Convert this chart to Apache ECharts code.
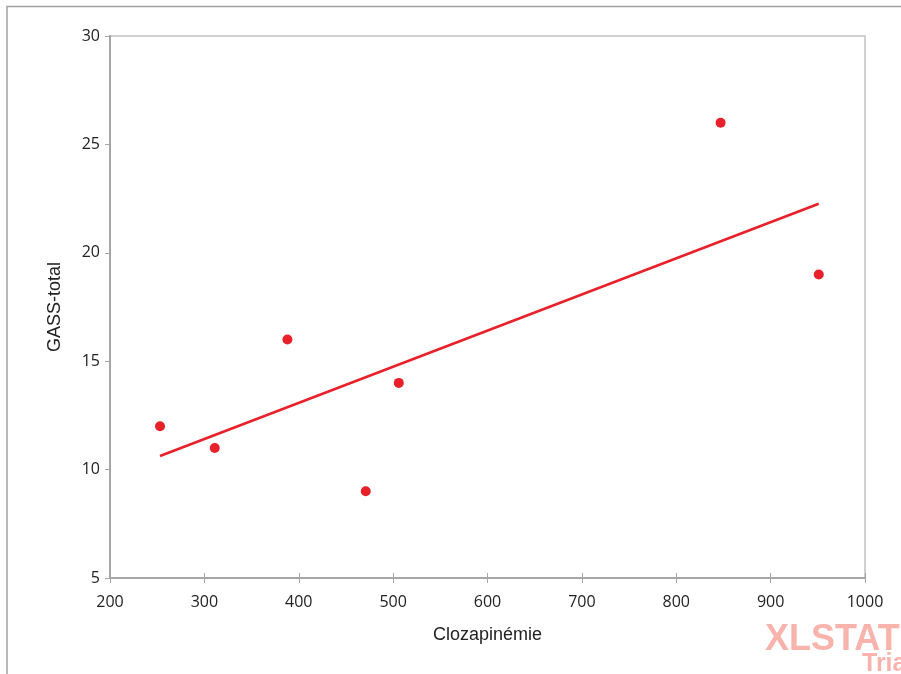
<!DOCTYPE html>
<html><head><meta charset="utf-8">
<script src="https://cdn.jsdelivr.net/npm/echarts@6/dist/echarts.min.js"></script>
<style>html,body{margin:0;padding:0;background:#fff}#c{width:901px;height:674px}</style>
</head><body><div id="c"></div>
<script>
var clozapinemie = [253, 311, 388, 471, 506, 847, 951];
var gassTotal = [12, 11, 16, 9, 14, 26, 19];
var xTicks = [200, 300, 400, 500, 600, 700, 800, 900, 1000];
var yTicks = [5, 10, 15, 20, 25, 30];

// least-squares trend line from data
var n = clozapinemie.length, mx = 0, my = 0;
for (var i = 0; i < n; i++) { mx += clozapinemie[i]; my += gassTotal[i]; }
mx /= n; my /= n;
var sxy = 0, sxx = 0;
for (var i = 0; i < n; i++) { sxy += (clozapinemie[i]-mx)*(gassTotal[i]-my); sxx += (clozapinemie[i]-mx)*(clozapinemie[i]-mx); }
var slope = sxy/sxx, icpt = my - slope*mx;
var xmin = Math.min.apply(null, clozapinemie), xmax = Math.max.apply(null, clozapinemie);
var trend = [[xmin, icpt+slope*xmin],[xmax, icpt+slope*xmax]];

var chart = echarts.init(document.getElementById('c'));
var axCol = '#a6a6a6';
var plain = function(v){ return String(v); };
chart.setOption({
  animation: false,
  textStyle: {fontFamily: 'Liberation Sans'},
  grid: {left: 110, right: 36, top: 36, bottom: 96, show: true, borderColor: '#d0d0d0', borderWidth: 2, backgroundColor: 'transparent'},
  xAxis: [{
    type: 'value', min: xTicks[0], max: xTicks[xTicks.length-1], interval: 100,
    name: 'Clozapinémie', nameLocation: 'middle', nameGap: 48,
    nameTextStyle: {fontSize: 18, color: '#222', fontFamily: 'Liberation Sans'},
    axisLine: {show: true, lineStyle: {color: axCol, width: 2}},
    axisTick: {show: true, inside: false, length: 5, lineStyle: {color: axCol, width: 1}},
    axisLabel: {fontSize: 16, color: '#222', margin: 16, fontFamily: 'Open Sans', formatter: plain},
    splitLine: {show: false}
  }, {
    type: 'value', min: xTicks[0], max: xTicks[xTicks.length-1], interval: 100, position: 'bottom',
    axisLine: {show: false},
    axisTick: {show: true, inside: true, length: 5, lineStyle: {color: axCol, width: 1}},
    axisLabel: {show: false}, splitLine: {show: false}
  }],
  yAxis: {
    type: 'value', min: yTicks[0], max: yTicks[yTicks.length-1], interval: 5,
    name: 'GASS-total', nameLocation: 'middle', nameGap: 46, nameRotate: 90,
    nameTextStyle: {fontSize: 18, color: '#222', fontFamily: 'Liberation Sans'},
    axisLine: {show: true, lineStyle: {color: axCol, width: 2}},
    axisTick: {show: true, inside: false, length: 5, lineStyle: {color: axCol, width: 1}},
    axisLabel: {fontSize: 16, color: '#222', margin: 10, fontFamily: 'Open Sans', formatter: plain},
    splitLine: {show: false}
  },
  series: [{
    type: 'line', data: trend, symbol: 'none', xAxisIndex: 0,
    lineStyle: {color: '#e8202a', width: 2.5}, z: 2
  }, {
    type: 'scatter', data: clozapinemie.map(function(x, i){return [x, gassTotal[i]];}),
    xAxisIndex: 0, symbolSize: 10, itemStyle: {color: '#e8202a', opacity: 1}, z: 3
  }],
  graphic: [
    {type: 'polyline', shape: {points: [[7, 674], [7, 6.5], [901, 6.5]]}, style: {stroke: '#a0a0a0', lineWidth: 1.5, fill: null}},
    {type: 'text', left: 765, top: 622, style: {text: 'XLSTAT', fill: '#f8b4ac', font: 'bold 36px "Liberation Sans"'}},
    {type: 'text', left: 862, top: 652, style: {text: 'Trial', fill: '#f8b4ac', font: 'bold 25px "Liberation Sans"'}}
  ]
});
</script></body></html>
